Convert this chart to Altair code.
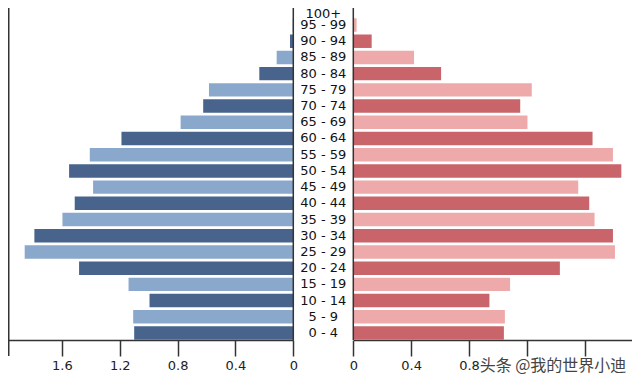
import altair as alt
import pandas as pd

ages = ["0 - 4", "5 - 9", "10 - 14", "15 - 19", "20 - 24", "25 - 29", "30 - 34",
        "35 - 39", "40 - 44", "45 - 49", "50 - 54", "55 - 59", "60 - 64", "65 - 69",
        "70 - 74", "75 - 79", "80 - 84", "85 - 89", "90 - 94", "95 - 99", "100+"]
male = [1.100, 1.107, 0.994, 1.139, 1.481, 1.857, 1.790, 1.596, 1.511, 1.384, 1.550,
        1.407, 1.188, 0.779, 0.623, 0.583, 0.235, 0.115, 0.023, 0.004, 0.0]
female = [1.041, 1.048, 0.941, 1.084, 1.428, 1.809, 1.795, 1.668, 1.631, 1.555, 1.853,
          1.795, 1.654, 1.204, 1.154, 1.234, 0.607, 0.420, 0.127, 0.023, 0.0]
shade = ["dark" if i % 2 == 0 else "light" for i in range(len(ages))]
tick_values = [0, 0.4, 0.8, 1.2, 1.6, 2]
watermark = "头条 @我的世界小迪"
top_age = "100+"

df = pd.DataFrame({"age": ages, "male": male, "female": female, "shade": shade})
zero_df = pd.DataFrame({"z": [0]})
order = list(reversed(ages))

yenc = alt.Y("age:N", sort=order,
             scale=alt.Scale(range=[-7.3, 333.1], paddingInner=0.17, paddingOuter=0.085),
             axis=None)

axis_common = dict(grid=False, domainColor="#333", domainWidth=1.5, tickColor="#333",
                   tickWidth=1.5, tickSize=16, labelPadding=3, labelFont="DejaVu Sans",
                   labelFontSize=13, labelColor="#222", title=None, format="~g",
                   labelFlush=False, labelOverlap=False, orient="bottom")

male_scale = alt.Scale(domain=[0, 2], range=[285.3, -4], nice=False, zero=True)
female_scale = alt.Scale(domain=[0, 2], range=[345.3, 634.6], nice=False, zero=True)

male_bars = alt.Chart(df).mark_bar().encode(
    x=alt.X("male:Q", scale=male_scale, axis=alt.Axis(values=tick_values, **axis_common)),
    y=yenc,
    color=alt.Color("shade:N", scale=alt.Scale(domain=["dark", "light"],
                                                range=["#48648c", "#8aa8cc"]), legend=None),
)
male_spine = alt.Chart(zero_df).mark_rule(color="#333", strokeWidth=1.5).encode(
    x=alt.X("z:Q", title=None)
)
male_layer = alt.layer(male_bars, male_spine)

female_bars = alt.Chart(df).mark_bar().encode(
    x=alt.X("female:Q", scale=female_scale,
            axis=alt.Axis(values=tick_values[:-1],
                          labelExpr="datum.value > 1 ? '' : datum.label", **axis_common)),
    y=yenc,
    color=alt.Color("shade:N", scale=alt.Scale(domain=["dark", "light"],
                                                range=["#c8646a", "#eeaaaa"]), legend=None),
)
female_spine = alt.Chart(zero_df).mark_rule(color="#333", strokeWidth=1.5).encode(
    x=alt.X("z:Q", title=None)
)
female_layer = alt.layer(female_bars, female_spine)

outer_spine = alt.Chart(zero_df).mark_rule(color="#333", strokeWidth=1.5).encode(
    x=alt.value(0.75), y=alt.value(0), y2=alt.value(348)
)

labels = alt.Chart(df).transform_filter(
    alt.datum.age != top_age
).mark_text(font="DejaVu Sans", fontSize=13, color="#111").encode(
    x=alt.value(315.3), y=yenc, text="age:N"
)
top_label = alt.Chart(df).transform_filter(
    alt.datum.age == top_age
).mark_text(font="DejaVu Sans", fontSize=13, color="#111", dy=5).encode(
    x=alt.value(315.3), y=yenc, text="age:N"
)

wm = alt.Chart(pd.DataFrame({"t": [watermark]})).mark_text(
    font="Noto Sans CJK SC", fontSize=16, color="#444"
).encode(x=alt.value(545), y=alt.value(358), text="t:N")

chart = alt.layer(male_layer, female_layer, outer_spine, labels, top_label, wm).resolve_scale(
    x="independent", color="independent"
).resolve_axis(x="independent").properties(
    width=624, height=332,
    padding={"left": 0, "top": 0, "right": 0, "bottom": 35},
    autosize=alt.AutoSizeParams(type="none"),
).configure_view(stroke=None)

chart.save("out.html", embed_options={"renderer": "svg", "actions": False})
